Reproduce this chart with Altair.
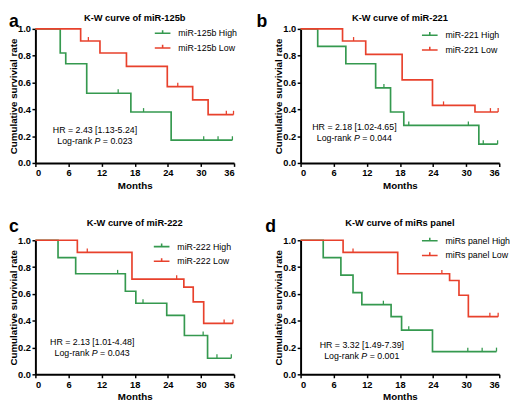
import altair as alt
import pandas as pd

GREEN = "#35994f"
RED = "#e8412c"
FONT = "Liberation Sans"
TICK_PATH = "M0,0L0,-1"
LEGEND_PATH = "M-1,0L1,0M0,0L0,-0.4"
W, H = 203, 137

month_ticks = [0, 6, 12, 18, 24, 30, 36]
surv_ticks = [0.0, 0.2, 0.4, 0.6, 0.8, 1.0]

# ---- panel a : miR-125b ----
a_title = "K-W curve of miR-125b"
a_names = ["miR-125b High", "miR-125b Low"]
a_high_t = [0, 4.5, 5.5, 9.3, 17.3, 24.6, 35.7]
a_high_s = [1.0, 0.82, 0.74, 0.52, 0.38, 0.17, 0.17]
a_high_c = [15.0, 19.6, 30.5, 33.1, 35.7]
a_low_t = [0, 8.2, 11.7, 16.5, 23.9, 28.5, 31.3, 35.9]
a_low_s = [1.0, 0.91, 0.82, 0.72, 0.57, 0.47, 0.36, 0.36]
a_low_c = [9.6, 25.8, 34.6, 35.9]
a_hr = "HR = 2.43 [1.13-5.24]"
a_p = "= 0.023"

# ---- panel b : miR-221 ----
b_title = "K-W curve of miR-221"
b_names = ["miR-221 High", "miR-221 Low"]
b_high_t = [0, 3.1, 8.2, 13.6, 16.3, 18.7, 32.3, 35.7]
b_high_s = [1.0, 0.87, 0.74, 0.56, 0.38, 0.28, 0.14, 0.14]
b_high_c = [15.1, 19.6, 30.4, 33.1, 35.7]
b_low_t = [0, 7.6, 11.8, 18.4, 23.9, 31.6, 35.8]
b_low_s = [1.0, 0.91, 0.81, 0.62, 0.43, 0.38, 0.38]
b_low_c = [9.6, 25.9, 34.4, 35.8]
b_hr = "HR = 2.18 [1.02-4.65]"
b_p = "= 0.044"

# ---- panel c : miR-222 ----
c_title = "K-W curve of miR-222"
c_names = ["miR-222 High", "miR-222 Low"]
c_high_t = [0, 4.1, 7.3, 16.3, 18.2, 23.8, 27.0, 31.2, 35.5]
c_high_s = [1.0, 0.87, 0.75, 0.62, 0.53, 0.44, 0.29, 0.12, 0.12]
c_high_c = [14.9, 19.5, 30.4, 32.9, 35.5]
c_low_t = [0, 7.6, 17.5, 26.9, 28.6, 30.5, 35.8]
c_low_s = [1.0, 0.91, 0.71, 0.65, 0.54, 0.38, 0.38]
c_low_c = [9.4, 25.6, 34.2, 35.8]
c_hr = "HR = 2.13 [1.01-4.48]"
c_p = "= 0.043"

# ---- panel d : miRs panel ----
d_title = "K-W curve of miRs panel"
d_names = ["miRs panel High", "miRs panel Low"]
d_high_t = [0, 4.1, 7.3, 9.5, 11.1, 16.4, 18.3, 23.9, 35.5]
d_high_s = [1.0, 0.87, 0.74, 0.61, 0.52, 0.43, 0.33, 0.17, 0.17]
d_high_c = [15.0, 19.6, 30.3, 32.9, 35.5]
d_low_t = [0, 7.7, 17.6, 27.0, 28.7, 30.4, 35.8]
d_low_s = [1.0, 0.91, 0.75, 0.70, 0.59, 0.43, 0.43]
d_low_c = [9.5, 25.6, 34.3, 35.8]
d_hr = "HR = 3.32 [1.49-7.39]"
d_p = "= 0.001"


def surv_at(ts, ss, c):
    val = ss[0]
    for t, s in zip(ts, ss):
        if t <= c:
            val = s
    return val


X_ENC = alt.X("t:Q", scale=alt.Scale(domain=[0, 36], nice=False),
              axis=alt.Axis(values=month_ticks, title="Months", titleY=18,
                            titleBaseline="top", labelOverlap=False, format="d"))
Y_ENC = alt.Y("s:Q", scale=alt.Scale(domain=[0, 1], nice=False),
              axis=alt.Axis(values=surv_ticks, format=".1f", labelOverlap=False,
                            title="Cumulative survivial rate", titleX=-17))


def panel(letter, title, names, ht, hs, hc, lt, ls, lc, hr, ptxt,
          ann_x, ann_y1, ann_y2, leg_x, leg_y, letter_x, letter_y, title_y):
    lines = pd.DataFrame(
        {"t": ht + lt, "s": hs + ls,
         "g": [names[0]] * len(ht) + [names[1]] * len(lt)})
    cens = pd.DataFrame(
        {"t": hc + lc,
         "s": [surv_at(ht, hs, c) for c in hc] + [surv_at(lt, ls, c) for c in lc],
         "g": [names[0]] * len(hc) + [names[1]] * len(lc)})

    color = alt.Color(
        "g:N",
        scale=alt.Scale(domain=names, range=[GREEN, RED]),
        legend=alt.Legend(
            orient="none", legendX=leg_x, legendY=leg_y, title=None,
            symbolType=LEGEND_PATH, symbolSize=256, symbolStrokeWidth=1.6,
            symbolFillColor="transparent",
            labelFont=FONT, labelFontSize=9, labelColor="black",
            labelOffset=7, clipHeight=15, rowPadding=0, padding=0),
    )
    line = alt.Chart(lines).mark_line(interpolate="step-after", strokeWidth=1.7).encode(
        x=X_ENC, y=Y_ENC, color=color, detail="g:N")
    ticks = alt.Chart(cens).mark_point(
        shape=TICK_PATH, size=64, filled=False, strokeWidth=1.3, opacity=1).encode(
        x=X_ENC, y=Y_ENC, color=color)

    t_style = dict(font=FONT, fontSize=9, color="black", baseline="middle")
    hr_t = alt.Chart(pd.DataFrame({"t": [ann_x], "s": [ann_y1], "txt": [hr]})).mark_text(
        align="center", **t_style).encode(x=X_ENC, y=Y_ENC, text="txt:N")
    row2 = pd.DataFrame({"t": [ann_x], "s": [ann_y2], "lr": ["Log-rank"], "pp": ["P"],
                         "pv": [ptxt]})
    lr_t = alt.Chart(row2).mark_text(align="right", dx=-3, **t_style).encode(
        x=X_ENC, y=Y_ENC, text="lr:N")
    p_t = alt.Chart(row2).mark_text(align="left", dx=-0.5, fontStyle="italic",
                                    **t_style).encode(x=X_ENC, y=Y_ENC, text="pp:N")
    pv_t = alt.Chart(row2).mark_text(align="left", dx=8, **t_style).encode(
        x=X_ENC, y=Y_ENC, text="pv:N")

    let = alt.Chart(pd.DataFrame({"l": [letter]})).mark_text(
        font=FONT, fontSize=18, fontWeight="bold", align="left",
        baseline="alphabetic", color="black").encode(
        x=alt.value(letter_x), y=alt.value(letter_y), text="l:N")
    ttl = alt.Chart(pd.DataFrame({"l": [title]})).mark_text(
        font=FONT, fontSize=9.5, fontWeight="bold", align="center",
        baseline="alphabetic", color="black").encode(
        x=alt.value(W / 2), y=alt.value(title_y), text="l:N")

    return alt.layer(line, ticks, hr_t, lr_t, p_t, pv_t, let, ttl).properties(
        width=W, height=H)


pa = panel("a", a_title, a_names, a_high_t, a_high_s, a_high_c, a_low_t, a_low_s, a_low_c,
           a_hr, a_p, 10.8, 0.245, 0.16, 121, -3, -27, -1.6, -8.5)
pb = panel("b", b_title, b_names, b_high_t, b_high_s, b_high_c, b_low_t, b_low_s, b_low_c,
           b_hr, b_p, 9.75, 0.27, 0.185, 123, -1, -45, -1.6, -8.5)
pc = panel("c", c_title, c_names, c_high_t, c_high_s, c_high_c, c_low_t, c_low_s, c_low_c,
           c_hr, c_p, 10.3, 0.24, 0.16, 120, -1, -27, -8.5, -14.5)
pd_ = panel("d", d_title, d_names, d_high_t, d_high_s, d_high_c, d_low_t, d_low_s, d_low_c,
            d_hr, d_p, 11.1, 0.22, 0.14, 123, -7, -36, -8.5, -14.5)

chart = alt.concat(
    pa, pb, pc, pd_, columns=2, bounds="flush",
    spacing=alt.RowColnumber(row=79, column=68),
).resolve_scale(color="independent").resolve_legend(color="independent").properties(
    padding=0
).configure_view(stroke=None).configure_axis(
    grid=False, domainColor="black", domainWidth=2, tickColor="black",
    tickWidth=1.5, tickSize=3.5, labelPadding=1.5, labelOverlap=False,
    labelFont=FONT, labelFontSize=9.5, labelFontWeight="bold", labelColor="black",
    titleFont=FONT, titleFontSize=10, titleFontWeight="bold", titleColor="black",
)

chart.save("out.html", embed_options={"renderer": "svg", "actions": False})
